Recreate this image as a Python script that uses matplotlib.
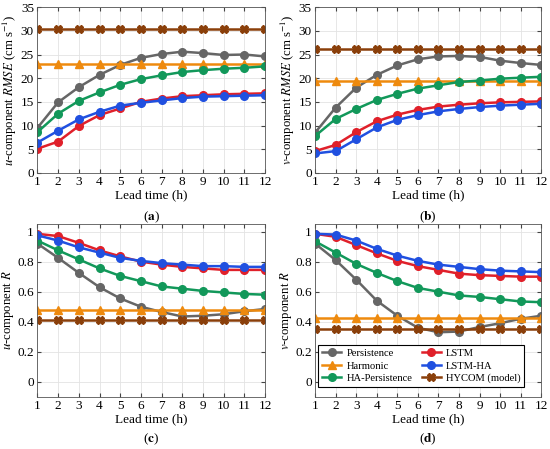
import numpy as np
import matplotlib
matplotlib.use('Agg')
import matplotlib.pyplot as plt

plt.rcParams['font.family'] = ['Liberation Serif', 'DejaVu Serif']
plt.rcParams['mathtext.fontset'] = 'stix'
plt.rcParams['font.size'] = 9.5

lead = np.arange(1, 13)

# (a) u-component RMSE
u_rmse_pers = [9.5, 14.9, 18.1, 20.7, 22.8, 24.3, 25.1, 25.6, 25.3, 24.9, 25.0, 24.6]
u_rmse_harm = [22.9] * 12
u_rmse_hap = [8.6, 12.5, 15.2, 17.0, 18.6, 19.8, 20.6, 21.3, 21.7, 22.0, 22.2, 22.5]
u_rmse_lstm = [5.1, 6.6, 9.9, 12.2, 13.6, 15.0, 15.7, 16.2, 16.4, 16.6, 16.7, 16.8]
u_rmse_lstmha = [6.4, 8.9, 11.3, 12.9, 14.2, 14.8, 15.3, 15.8, 16.1, 16.2, 16.3, 16.4]
u_rmse_hycom = [30.4] * 12

# (b) v-component RMSE
v_rmse_pers = [8.5, 13.8, 18.0, 20.7, 22.7, 24.0, 24.6, 24.7, 24.5, 23.7, 23.2, 22.8]
v_rmse_harm = [19.4] * 12
v_rmse_hap = [7.8, 11.4, 13.5, 15.4, 16.7, 17.8, 18.5, 19.2, 19.5, 19.9, 20.1, 20.3]
v_rmse_lstm = [4.6, 5.9, 8.6, 10.9, 12.3, 13.3, 14.0, 14.4, 14.7, 14.9, 15.0, 15.1]
v_rmse_lstmha = [4.1, 4.6, 7.1, 9.6, 11.2, 12.2, 13.0, 13.5, 13.9, 14.2, 14.4, 14.6]
v_rmse_hycom = [26.2] * 12

# (c) u-component R
u_r_pers = [0.92, 0.825, 0.725, 0.63, 0.555, 0.50, 0.465, 0.435, 0.44, 0.45, 0.47, 0.485]
u_r_harm = [0.475] * 12
u_r_hap = [0.94, 0.875, 0.815, 0.755, 0.705, 0.67, 0.635, 0.62, 0.605, 0.595, 0.585, 0.58]
u_r_lstm = [0.985, 0.97, 0.925, 0.875, 0.835, 0.80, 0.78, 0.765, 0.755, 0.745, 0.745, 0.745]
u_r_lstmha = [0.975, 0.94, 0.895, 0.86, 0.825, 0.805, 0.79, 0.78, 0.77, 0.77, 0.765, 0.765]
u_r_hycom = [0.415] * 12

# (d) v-component R
v_r_pers = [0.92, 0.81, 0.68, 0.54, 0.44, 0.36, 0.33, 0.335, 0.365, 0.39, 0.42, 0.44]
v_r_harm = [0.425] * 12
v_r_hap = [0.935, 0.86, 0.785, 0.725, 0.67, 0.625, 0.60, 0.575, 0.565, 0.55, 0.535, 0.53]
v_r_lstm = [0.985, 0.965, 0.91, 0.855, 0.805, 0.77, 0.745, 0.72, 0.71, 0.705, 0.70, 0.70]
v_r_lstmha = [0.985, 0.98, 0.94, 0.885, 0.84, 0.805, 0.78, 0.765, 0.75, 0.74, 0.735, 0.73]
v_r_hycom = [0.35] * 12

names = ['Persistence', 'Harmonic', 'HA-Persistence', 'LSTM', 'LSTM-HA', 'HYCOM (model)']
colors = ['#666666', '#EE8A0E', '#12985A', '#E0202A', '#2050E0', '#8A3F0A']
markers = ['o', '^', 'o', 'o', 'o', 'X']


def draw(ax, series, ylim, yticks, ylabel):
    for vals, name, c, m in zip(series, names, colors, markers):
        ax.plot(lead, vals, color=c, marker=m, markersize=5.5, linewidth=1.8,
                label=name, markeredgewidth=1.0)
    ax.set_xlim(1, 12)
    ax.set_ylim(*ylim)
    ax.set_xticks(lead)
    ax.set_yticks(yticks)
    ax.grid(True, color='#e3e3e3', linewidth=0.6)
    ax.set_axisbelow(True)
    ax.tick_params(direction='in', top=True, right=True, length=3,
                   color='#444444', pad=2.5)
    for s in ax.spines.values():
        s.set_color('#555555')
        s.set_linewidth(0.6)
    ax.set_xlabel('Lead time (h)', labelpad=1)
    ax.set_ylabel(ylabel, labelpad=1, fontsize=9.2)


fig = plt.figure(figsize=(5.5, 4.49), dpi=100)
ax_a = fig.add_axes([0.068, 0.615, 0.414, 0.369])
ax_b = fig.add_axes([0.573, 0.615, 0.411, 0.369])
ax_c = fig.add_axes([0.068, 0.116, 0.414, 0.385])
ax_d = fig.add_axes([0.573, 0.116, 0.411, 0.385])

draw(ax_a, [u_rmse_pers, u_rmse_harm, u_rmse_hap, u_rmse_lstm, u_rmse_lstmha, u_rmse_hycom],
     (0, 35), np.arange(0, 36, 5), r'$u$-component $RMSE$ (cm s$^{-1}$)')
draw(ax_b, [v_rmse_pers, v_rmse_harm, v_rmse_hap, v_rmse_lstm, v_rmse_lstmha, v_rmse_hycom],
     (0, 35), np.arange(0, 36, 5), r'$v$-component $RMSE$ (cm s$^{-1}$)')
draw(ax_c, [u_r_pers, u_r_harm, u_r_hap, u_r_lstm, u_r_lstmha, u_r_hycom],
     (-0.1, 1.05), [0, 0.2, 0.4, 0.6, 0.8, 1], r'$u$-component $R$')
draw(ax_d, [v_r_pers, v_r_harm, v_r_hap, v_r_lstm, v_r_lstmha, v_r_hycom],
     (-0.1, 1.05), [0, 0.2, 0.4, 0.6, 0.8, 1], r'$v$-component $R$')

for ax in (ax_c, ax_d):
    ax.set_yticklabels(['0', '0.2', '0.4', '0.6', '0.8', '1'])

# panel tags
fig.text(0.275, 0.517, r'($\mathbf{a}$)', ha='center', va='center')
fig.text(0.778, 0.517, r'($\mathbf{b}$)', ha='center', va='center')
fig.text(0.275, 0.022, r'($\mathbf{c}$)', ha='center', va='center')
fig.text(0.778, 0.022, r'($\mathbf{d}$)', ha='center', va='center')

leg = ax_d.legend(ncol=2, loc='lower left', bbox_to_anchor=(0.005, 0.045),
                  fancybox=False, edgecolor='black', framealpha=1,
                  fontsize=7.6, handlelength=1.8, columnspacing=0.9,
                  handletextpad=0.5, borderpad=0.35, labelspacing=0.3,
                  borderaxespad=0.2)
leg.get_frame().set_linewidth(0.8)

fig.savefig('out.png', dpi=100)
